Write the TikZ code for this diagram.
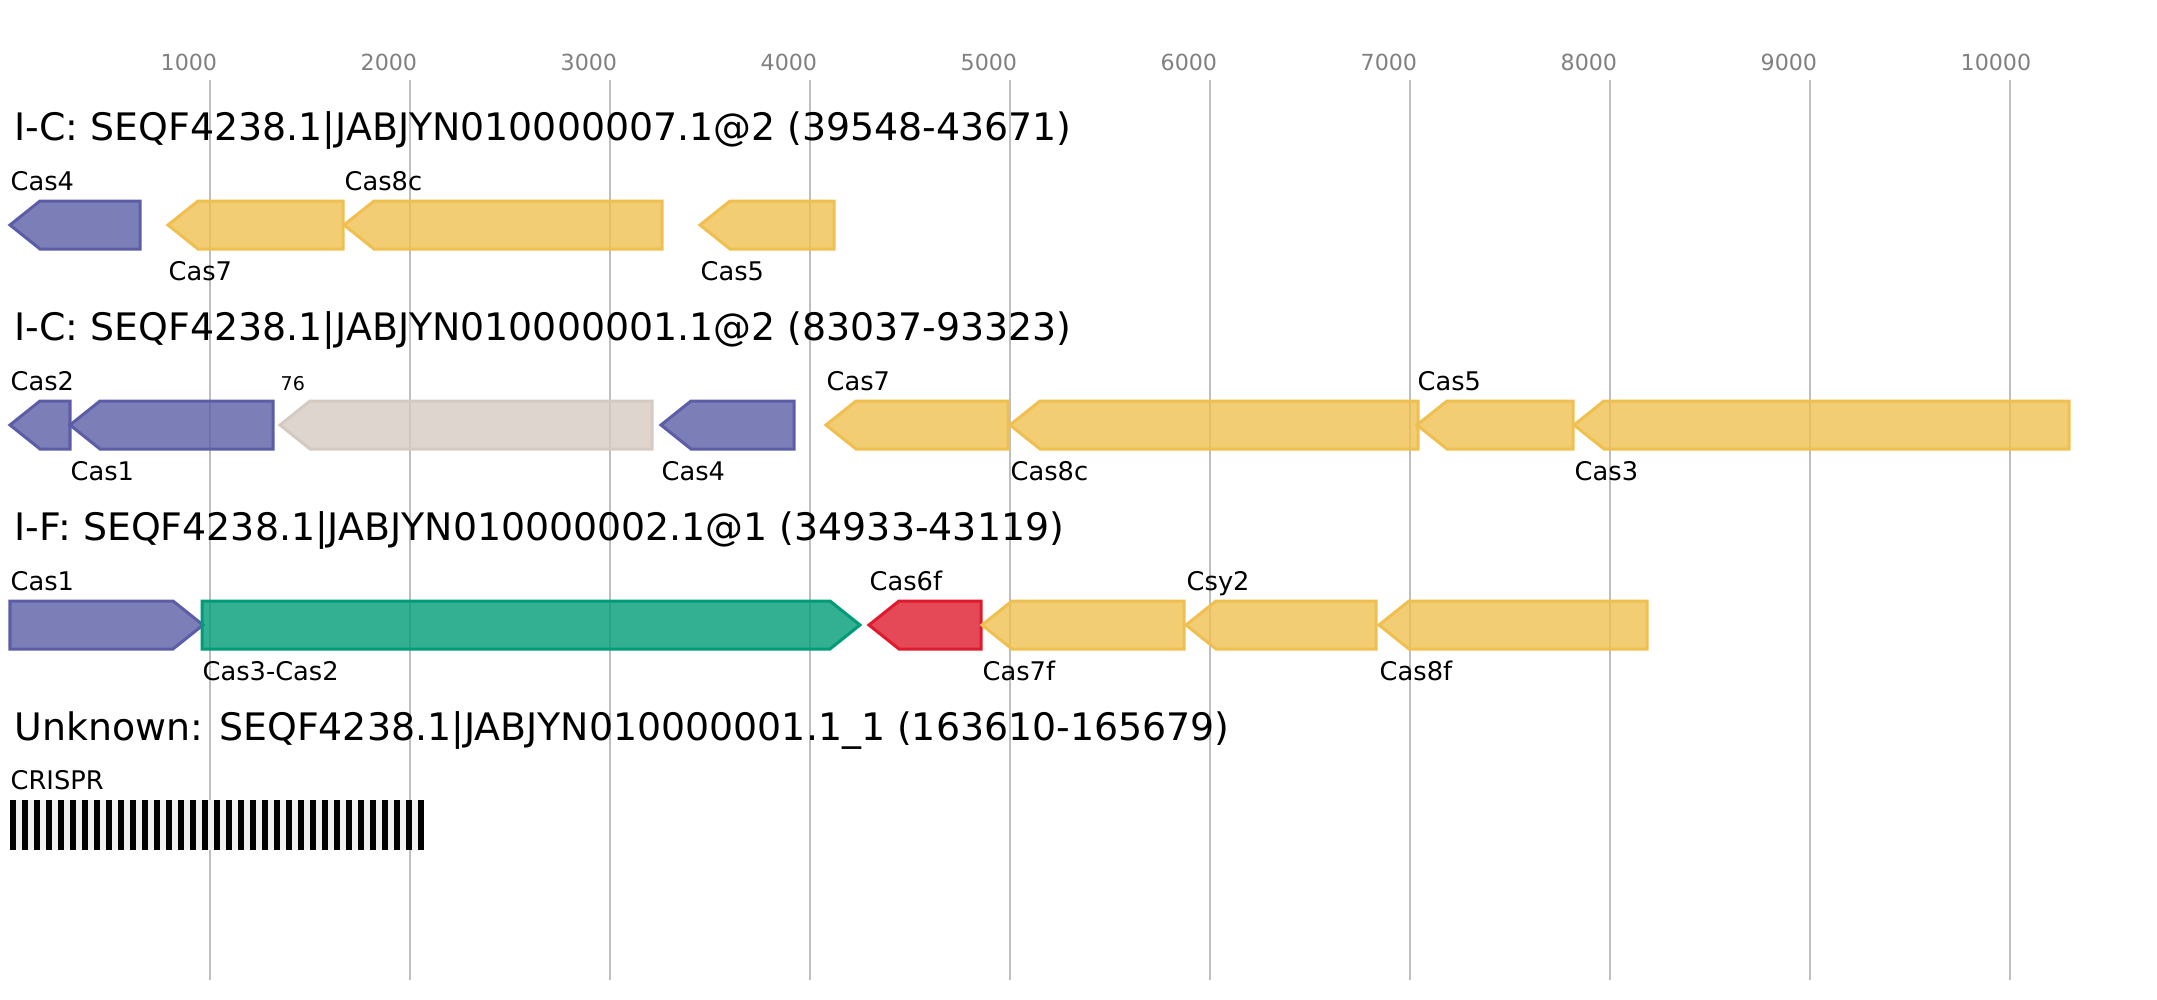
\documentclass[tikz,border=0pt]{standalone}
\usepackage{fontspec}
\setmainfont{DejaVu Sans}
\usetikzlibrary{positioning}

\definecolor{casblue}{HTML}{5B5EA6}
\definecolor{casyellow}{HTML}{EFC050}
\definecolor{casgreen}{HTML}{009B77}
\definecolor{casred}{HTML}{DE1A2C}
\definecolor{casgray}{HTML}{D4CAC2}
\definecolor{gridgray}{HTML}{BFBFBF}
\definecolor{crisprbg}{HTML}{F0F0F0}

\tikzset{
  gene/.style={draw=#1, fill=#1, fill opacity=0.8, line width=0.03cm},
  genename/.style={font=\fontsize{7.3}{8}\selectfont, anchor=base west, inner sep=0pt},
  rowtitle/.style={font=\fontsize{10.77}{12}\selectfont, anchor=base west, inner sep=0pt},
  ticklabel/.style={font=\fontsize{6.3}{7}\selectfont, text=gray, inner sep=0pt},
  gridline/.style={gridgray, line width=0.02cm},
}

\begin{document}
\begin{tikzpicture}[x=0.01cm, y=-0.01cm]

\useasboundingbox (0,0) rectangle (2157,1000);

%Scale lines and numbers
\foreach \k in {1,...,10} {
  \pgfmathsetmacro\gx{10+200*\k}
  \draw[gridline] (\gx,80) -- (\gx,980);
  \coordinate (top\k) at (\gx,80);
  \node (tick\k) [ticklabel, above right=0.08cm and -0.5cm of top\k] {\k000};
}

%Titles of the loci
\node (title1) [rowtitle] at (14,140) {I-C: SEQF4238.1|JABJYN010000007.1@2 (39548-43671)};
\node (title2) [rowtitle] at (14,340) {I-C: SEQF4238.1|JABJYN010000001.1@2 (83037-93323)};
\node (title3) [rowtitle] at (14,540) {I-F: SEQF4238.1|JABJYN010000002.1@1 (34933-43119)};
\node (title4) [rowtitle] at (14,740) {Unknown: SEQF4238.1|JABJYN010000001.1\_1 (163610-165679)};

%Row 1
\foreach \xa/\xb/\txt/\col/\dir/\dy [count=\i] in {
  10/140/Cas4/casblue/-1/-35,
  168/343/Cas7/casyellow/-1/55,
  344/662/Cas8c/casyellow/-1/-35,
  700/834/Cas5/casyellow/-1/55} {
  \pgfmathsetmacro\tip{min(30,\xb-\xa)}
  \pgfmathsetmacro\tipx{\dir>0 ? \xb : \xa}
  \pgfmathsetmacro\flatx{\dir>0 ? \xa : \xb}
  \pgfmathsetmacro\shx{\tipx-\dir*\tip}
  \pgfmathsetmacro\ly{225+\dy}
  \draw[gene=\col] (\tipx,225) -- (\shx,201) -- (\flatx,201) -- (\flatx,249) -- (\shx,249) -- cycle;
  \node (ra\i) [genename] at (\xa,\ly) {\txt};
}

%Row 2
\foreach \xa/\xb/\txt/\col/\dir/\dy [count=\i] in {
  10/70/Cas2/casblue/-1/-35,
  70/273/Cas1/casblue/-1/55,
  280/652/{\fontsize{5.4}{6}\selectfont 76}/casgray/-1/-35,
  661/794/Cas4/casblue/-1/55,
  826/1008/Cas7/casyellow/-1/-35,
  1010/1418/Cas8c/casyellow/-1/55,
  1417/1573/Cas5/casyellow/-1/-35,
  1574/2069/Cas3/casyellow/-1/55} {
  \pgfmathsetmacro\tip{min(30,\xb-\xa)}
  \pgfmathsetmacro\tipx{\dir>0 ? \xb : \xa}
  \pgfmathsetmacro\flatx{\dir>0 ? \xa : \xb}
  \pgfmathsetmacro\shx{\tipx-\dir*\tip}
  \pgfmathsetmacro\ly{425+\dy}
  \draw[gene=\col] (\tipx,425) -- (\shx,401) -- (\flatx,401) -- (\flatx,449) -- (\shx,449) -- cycle;
  \node (rb\i) [genename] at (\xa,\ly) {\txt};
}

%Row 3
\foreach \xa/\xb/\txt/\col/\dir/\dy [count=\i] in {
  10/203/Cas1/casblue/1/-35,
  202/860/Cas3-Cas2/casgreen/1/55,
  869/981/Cas6f/casred/-1/-35,
  982/1184/Cas7f/casyellow/-1/55,
  1186/1376/Csy2/casyellow/-1/-35,
  1379/1647/Cas8f/casyellow/-1/55} {
  \pgfmathsetmacro\tip{min(30,\xb-\xa)}
  \pgfmathsetmacro\tipx{\dir>0 ? \xb : \xa}
  \pgfmathsetmacro\flatx{\dir>0 ? \xa : \xb}
  \pgfmathsetmacro\shx{\tipx-\dir*\tip}
  \pgfmathsetmacro\ly{625+\dy}
  \draw[gene=\col] (\tipx,625) -- (\shx,601) -- (\flatx,601) -- (\flatx,649) -- (\shx,649) -- cycle;
  \node (rc\i) [genename] at (\xa,\ly) {\txt};
}

%CRISPR array
\node (crispr) [genename] at (10,789) {CRISPR};
\fill[crisprbg] (10,800) rectangle (424,850);
\foreach \k in {0,...,34}
  \fill (10+12*\k,800) rectangle ++(6,50);

\end{tikzpicture}
\end{document}
